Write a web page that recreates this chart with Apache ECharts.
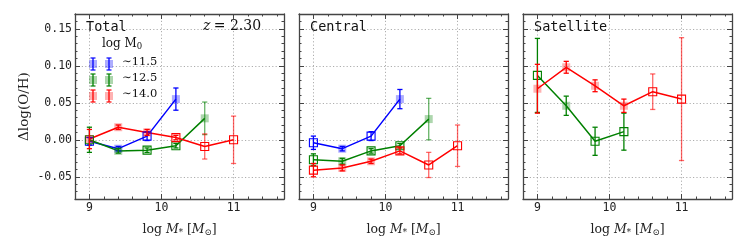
<!DOCTYPE html>
<html><head><meta charset="utf-8">
<script src="https://cdn.jsdelivr.net/npm/echarts@6/dist/echarts.min.js"></script>
<style>html,body{margin:0;padding:0;background:#fff}#c{width:747px;height:249px}</style>
</head><body><div id="c"></div>
<script>
// ---------------- data ----------------
const massBins = [9.0, 9.4, 9.8, 10.2, 10.6, 11.0];
const panelNames = ['Total', 'Central', 'Satellite'];
const haloLabels = ['\u223C11.5', '\u223C12.5', '\u223C14.0'];
const redshiftLabel = 'z = 2.30';

// Total
const totalBlue = [-0.002, -0.012, 0.005, 0.055];
const totalBlueErr = [0.005, 0.003, 0.006, 0.015];
const totalBlueFilled = [0, 1, 0, 1];
const totalGreen = [0.000, -0.015, -0.014, -0.008, 0.029];
const totalGreenErr = [0.017, 0.003, 0.003, 0.003, 0.022];
const totalGreenFilled = [0, 1, 0, 0, 1];
const totalRed = [0.001, 0.017, 0.010, 0.003, -0.009, 0.000];
const totalRedErr = [0.013, 0.003, 0.004, 0.003, 0.017, 0.032];
const totalRedFilled = [1, 1, 1, 0, 0, 0];

// Central
const centralBlue = [-0.004, -0.012, 0.005, 0.055];
const centralBlueErr = [0.009, 0.003, 0.006, 0.013];
const centralBlueFilled = [0, 1, 0, 1];
const centralGreen = [-0.027, -0.029, -0.015, -0.008, 0.028];
const centralGreenErr = [0.008, 0.004, 0.003, 0.003, 0.028];
const centralGreenFilled = [0, 1, 0, 0, 1];
const centralRed = [-0.041, -0.038, -0.029, -0.015, -0.034, -0.008];
const centralRedErr = [0.009, 0.004, 0.003, 0.004, 0.017, 0.028];
const centralRedFilled = [0, 1, 1, 0, 0, 0];

// Satellite
const satGreen = [0.087, 0.046, -0.002, 0.011];
const satGreenErr = [0.050, 0.013, 0.019, 0.025];
const satGreenFilled = [0, 1, 0, 0];
const satRed = [0.069, 0.098, 0.073, 0.046, 0.065, 0.055];
const satRedErr = [0.033, 0.008, 0.008, 0.009, 0.024, 0.083];
const satRedFilled = [1, 1, 1, 1, 0, 0];

// ---------------- styling ----------------
const COLORS = {
  blue: {line: '#0000ff', faint: 'rgba(0,0,255,0.55)', fill: 'rgba(0,0,255,0.32)'},
  green: {line: '#008000', faint: 'rgba(0,128,0,0.6)', fill: 'rgba(0,128,0,0.32)'},
  red: {line: '#ff0000', faint: 'rgba(255,0,0,0.6)', fill: 'rgba(255,0,0,0.3)'}
};
const panels = [
  [['blue', totalBlue, totalBlueErr, totalBlueFilled], ['green', totalGreen, totalGreenErr, totalGreenFilled], ['red', totalRed, totalRedErr, totalRedFilled]],
  [['blue', centralBlue, centralBlueErr, centralBlueFilled], ['green', centralGreen, centralGreenErr, centralGreenFilled], ['red', centralRed, centralRedErr, centralRedFilled]],
  [['green', satGreen, satGreenErr, satGreenFilled], ['red', satRed, satRedErr, satRedFilled]]
];

const gridLefts = [75, 299, 523];
const GW = 209, GTOP = 14, GH = 185;
const XMIN = 8.8, XMAX = 11.7, YMIN = -0.08, YMAX = 0.17;
const FRAME = '#444';
const MONO = 'DejaVu Sans Mono';
const SERIF = 'DejaVu Serif';

const grids = [], xAxes = [], yAxes = [], series = [];

panels.forEach((groups, g) => {
  grids.push({left: gridLefts[g], top: GTOP, width: GW, height: GH, containLabel: false});
  const splitLine = {show: true, lineStyle: {color: '#999', width: 0.8, type: [1.2, 2.2]}};
  xAxes.push({
    type: 'value', gridIndex: g, position: 'bottom', min: XMIN, max: XMAX, splitNumber: 3,
    axisLine: {show: true, onZero: false, lineStyle: {color: FRAME, width: 1.3}},
    axisTick: {show: true, inside: true, length: 5, lineStyle: {color: FRAME, width: 1}},
    axisLabel: {show: true, showMinLabel: false, showMaxLabel: false, margin: 3,
      fontFamily: MONO, fontSize: 11.5, color: '#222', formatter: v => String(Math.round(v))},
    splitLine: splitLine,
    name: '{n|log }{i|M}{s|*}{n| [}{i|M}{s|\u2299}{n|]}', nameLocation: 'middle', nameGap: 23,
    nameTextStyle: {rich: {
      n: {fontFamily: SERIF, fontSize: 12.5, color: '#222'},
      i: {fontFamily: SERIF, fontStyle: 'italic', fontSize: 12.5, color: '#222'},
      s: {fontFamily: SERIF, fontSize: 8.5, color: '#222', verticalAlign: 'bottom', padding: [6, 0, 0, 0]}
    }}
  });
  xAxes.push({
    type: 'value', gridIndex: g, position: 'bottom', min: XMIN, max: XMAX, interval: 0.2,
    axisLine: {show: false, onZero: false}, axisLabel: {show: false}, splitLine: {show: false},
    axisTick: {show: true, inside: true, length: 2.5, lineStyle: {color: FRAME, width: 1}}
  });
  xAxes.push({
    type: 'value', gridIndex: g, position: 'top', min: XMIN, max: XMAX, splitNumber: 3,
    axisLine: {show: true, onZero: false, lineStyle: {color: FRAME, width: 1.3}},
    axisTick: {show: true, inside: true, length: 5, lineStyle: {color: FRAME, width: 1}},
    axisLabel: {show: false}, splitLine: {show: false}
  });
  xAxes.push({
    type: 'value', gridIndex: g, position: 'top', min: XMIN, max: XMAX, interval: 0.2,
    axisLine: {show: false, onZero: false}, axisLabel: {show: false}, splitLine: {show: false},
    axisTick: {show: true, inside: true, length: 2.5, lineStyle: {color: FRAME, width: 1}}
  });
  yAxes.push({
    type: 'value', gridIndex: g, position: 'left', min: YMIN, max: YMAX, splitNumber: 5,
    axisLine: {show: true, onZero: false, lineStyle: {color: FRAME, width: 1.3}},
    axisTick: {show: true, inside: true, length: 5, lineStyle: {color: FRAME, width: 1}},
    axisLabel: {show: g === 0, showMinLabel: false, showMaxLabel: false, margin: 3,
      fontFamily: MONO, fontSize: 11.5, color: '#222', formatter: v => v.toFixed(2)},
    splitLine: splitLine,
    name: g === 0 ? '\u0394log(O/H)' : '', nameLocation: 'middle', nameGap: 44, nameRotate: 90,
    nameTextStyle: {fontFamily: SERIF, fontSize: 13.5, color: '#222'}
  });
  yAxes.push({
    type: 'value', gridIndex: g, position: 'left', min: YMIN, max: YMAX, interval: 0.01,
    axisLine: {show: false, onZero: false}, axisLabel: {show: false}, splitLine: {show: false},
    axisTick: {show: true, inside: true, length: 2.5, lineStyle: {color: FRAME, width: 1}}
  });
  yAxes.push({
    type: 'value', gridIndex: g, position: 'right', min: YMIN, max: YMAX, splitNumber: 5,
    axisLine: {show: true, onZero: false, lineStyle: {color: FRAME, width: 1.3}},
    axisTick: {show: true, inside: true, length: 5, lineStyle: {color: FRAME, width: 1}},
    axisLabel: {show: false}, splitLine: {show: false}
  });
  yAxes.push({
    type: 'value', gridIndex: g, position: 'right', min: YMIN, max: YMAX, interval: 0.01,
    axisLine: {show: false, onZero: false}, axisLabel: {show: false}, splitLine: {show: false},
    axisTick: {show: true, inside: true, length: 2.5, lineStyle: {color: FRAME, width: 1}}
  });

  groups.forEach(([cname, vals, errs, filled]) => {
    const col = COLORS[cname];
    const pts = vals.map((v, i) => [massBins[i], v]);
    series.push({
      type: 'line', xAxisIndex: g * 4, yAxisIndex: g * 4, data: pts,
      symbol: 'none', lineStyle: {color: col.line, width: 1.5}, z: 3, silent: true, animation: false
    });
    series.push({
      type: 'custom', xAxisIndex: g * 4, yAxisIndex: g * 4, z: 4, animation: false, silent: true,
      data: vals.map((v, i) => [massBins[i], v, errs[i], filled[i]]),
      renderItem: (params, api) => {
        const x = api.value(0), y = api.value(1), e = api.value(2), f = api.value(3);
        const c = api.coord([x, y]);
        const t = api.coord([x, y + e]);
        const b = api.coord([x, y - e]);
        const bc = x >= 10.5 ? col.faint : col.line;
        const cw = 2.6;
        const children = [
          {type: 'line', shape: {x1: c[0], y1: t[1], x2: c[0], y2: b[1]}, style: {stroke: bc, lineWidth: 1.3}},
          {type: 'line', shape: {x1: c[0] - cw, y1: t[1], x2: c[0] + cw, y2: t[1]}, style: {stroke: bc, lineWidth: 1.3}},
          {type: 'line', shape: {x1: c[0] - cw, y1: b[1], x2: c[0] + cw, y2: b[1]}, style: {stroke: bc, lineWidth: 1.3}}
        ];
        const s = 8;
        if (f) {
          children.push({type: 'rect', shape: {x: c[0] - s / 2, y: c[1] - s / 2, width: s, height: s},
            style: {fill: col.fill, stroke: null}});
        } else {
          children.push({type: 'rect', shape: {x: c[0] - s / 2, y: c[1] - s / 2, width: s, height: s},
            style: {fill: 'rgba(255,255,255,0)', stroke: col.line, lineWidth: 1.1}});
        }
        return {type: 'group', children};
      }
    });
  });
});

// ---------------- annotations / legend ----------------
const graphics = [];
panelNames.forEach((nm, g) => {
  graphics.push({type: 'text', left: gridLefts[g] + 11, top: 20, z: 10,
    style: {text: nm, fontFamily: MONO, fontSize: 13.5, fill: '#111'}});
});
graphics.push({type: 'text', left: 203, top: 19, z: 10,
  style: {text: '{i|z} {n|= 2.30}', rich: {
    i: {fontFamily: SERIF, fontStyle: 'italic', fontSize: 14, fill: '#111'},
    n: {fontFamily: SERIF, fontSize: 14, fill: '#111'}}}});
graphics.push({type: 'text', left: 102, top: 38, z: 10,
  style: {text: '{n|log M}{s|0}', rich: {
    n: {fontFamily: SERIF, fontSize: 12, fill: '#111'},
    s: {fontFamily: SERIF, fontSize: 8.5, fill: '#111', verticalAlign: 'bottom', padding: [5, 0, 0, 0]}}}});
const legendRows = [['blue', 64], ['green', 80], ['red', 96]];
legendRows.forEach(([cname, yy], k) => {
  const col = COLORS[cname];
  [93, 109].forEach(xx => {
    graphics.push({type: 'rect', z: 10, shape: {x: xx - 4, y: yy - 4, width: 8, height: 8}, style: {fill: col.fill}});
    graphics.push({type: 'line', z: 11, shape: {x1: xx, y1: yy - 6, x2: xx, y2: yy + 6}, style: {stroke: col.line, lineWidth: 1.3}});
    graphics.push({type: 'line', z: 11, shape: {x1: xx - 2.5, y1: yy - 6, x2: xx + 2.5, y2: yy - 6}, style: {stroke: col.line, lineWidth: 1.2}});
    graphics.push({type: 'line', z: 11, shape: {x1: xx - 2.5, y1: yy + 6, x2: xx + 2.5, y2: yy + 6}, style: {stroke: col.line, lineWidth: 1.2}});
  });
  graphics.push({type: 'text', z: 10, left: 122, top: yy - 8,
    style: {text: haloLabels[k], fontFamily: SERIF, fontSize: 11.5, fill: '#111'}});
});

const chart = echarts.init(document.getElementById('c'), null, {renderer: 'canvas'});
chart.setOption({
  animation: false,
  backgroundColor: '#fff',
  grid: grids, xAxis: xAxes, yAxis: yAxes, series: series, graphic: graphics
});
</script></body></html>
